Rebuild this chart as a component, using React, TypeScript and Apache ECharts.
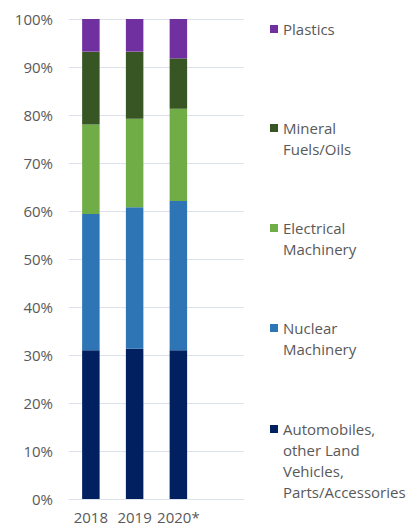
import React, { useEffect, useRef } from "react";
import * as echarts from "echarts";

const categories = ["2018", "2019", "2020*"];
const seriesNames = [
  "Automobiles,\nother Land\nVehicles,\nParts/Accessories",
  "Nuclear\nMachinery",
  "Electrical\nMachinery",
  "Mineral\nFuels/Oils",
  "Plastics",
];
const automobiles = [31.0, 31.3, 31.0];
const nuclear = [28.4, 29.5, 31.1];
const electrical = [18.6, 18.4, 19.2];
const mineral = [15.2, 14.0, 10.5];
const plastics = [6.8, 6.8, 8.2];
const colors = ["#002060", "#2E75B6", "#70AD47", "#375623", "#7030A0"];
const yTicks = [0, 10, 20, 30, 40, 50, 60, 70, 80, 90, 100];

const FONT = "'Open Sans', sans-serif";
const TEXT_COLOR = "#595959";
const GRID_COLOR = "#DDE3EA";

export default function App() {
  const ref = useRef<HTMLDivElement>(null);
  useEffect(() => {
    if (!ref.current) return;
    const chart = echarts.init(ref.current, undefined, { renderer: "svg" });
    const values = [automobiles, nuclear, electrical, mineral, plastics];
    const legendCenters = [429, 328, 228, 128, 29];
    const graphic: any[] = [];
    seriesNames.forEach((name, i) => {
      graphic.push({
        type: "rect",
        shape: { x: 270, y: legendCenters[i] - 4, width: 8, height: 8 },
        style: { fill: colors[i] },
      });
      graphic.push({
        type: "text",
        x: 283,
        y: legendCenters[i] - 10.5,
        style: {
          text: name,
          fill: TEXT_COLOR,
          font: `15px ${FONT}`,
          lineHeight: 21,
          verticalAlign: "top",
          align: "left",
        },
      });
    });
    chart.setOption({
      animation: false,
      grid: { left: 69, right: 162, top: 19, bottom: 30, containLabel: false },
      xAxis: {
        type: "category",
        data: [...categories, ""],
        axisTick: { show: false },
        axisLine: { lineStyle: { color: GRID_COLOR, width: 1 } },
        axisLabel: {
          color: TEXT_COLOR,
          fontSize: 15,
          fontFamily: FONT,
          margin: 10,
          interval: 0,
          hideOverlap: false,
        },
      },
      yAxis: {
        type: "value",
        min: yTicks[0],
        max: yTicks[yTicks.length - 1],
        interval: 10,
        axisLabel: {
          formatter: "{value}%",
          color: TEXT_COLOR,
          fontSize: 15,
          fontFamily: FONT,
          margin: 16,
        },
        splitLine: { lineStyle: { color: GRID_COLOR, width: 1 } },
        axisLine: { show: false },
        axisTick: { show: false },
      },
      series: seriesNames.map((name, i) => ({
        name,
        type: "bar",
        stack: "total",
        barWidth: 17.5,
        data: values[i],
        itemStyle: { color: colors[i] },
      })),
      graphic,
    });
    return () => chart.dispose();
  }, []);
  return (
    <div
      ref={ref}
      style={{ position: "absolute", left: 0, top: 0, width: 406, height: 529, background: "#fff" }}
    />
  );
}
